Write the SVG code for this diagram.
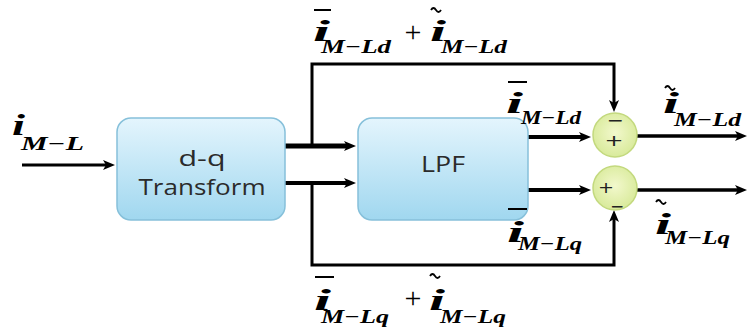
<svg xmlns="http://www.w3.org/2000/svg" width="751" height="328" viewBox="0 0 751 328">
<style>
.box{stroke:#86c0da;stroke-width:1.5}
.btxt{font-family:"Open Sans","Liberation Sans",sans-serif;font-size:21px;fill:#2b2b2b;text-anchor:middle}
.sum{fill:url(#gS);stroke:#c3d97e;stroke-width:1.5}
.sign{font-family:"DejaVu Sans",sans-serif;font-size:16px;fill:#222;text-anchor:middle}
.wire{fill:none;stroke:#000;stroke-linejoin:miter}
.arr{marker-end:url(#ah)}
.mi{font-family:"Liberation Serif",serif;font-weight:bold;font-style:italic;font-size:30px;fill:#000}
.ms{font-family:"Liberation Serif",serif;font-weight:bold;font-style:italic;font-size:19px;fill:#000}
.mp{font-family:"Liberation Serif",serif;font-size:30px;fill:#000}
.bar{stroke:#000;stroke-width:2}
.tl{fill:none;stroke:#000;stroke-width:1.8}
</style>
<defs>
<linearGradient id="gB" x1="0" y1="0" x2="0" y2="1">
<stop offset="0" stop-color="#e4f5fd"/>
<stop offset="1" stop-color="#a0d7ef"/>
</linearGradient>
<radialGradient id="gS" cx="0.5" cy="0.45" r="0.6">
<stop offset="0" stop-color="#f2f8cc"/>
<stop offset="1" stop-color="#d6e996"/>
</radialGradient>
<marker id="ah" markerUnits="userSpaceOnUse" markerWidth="14" markerHeight="12" refX="4" refY="5" orient="auto" overflow="visible">
<path d="M0,0 L12,5 L0,10 L3,5 Z" fill="#000"/>
</marker>
</defs>

<g id="connectors">
<path class="wire arr" d="M22,165 H107" stroke-width="3"/>
<path class="wire arr" d="M285,146 H348" stroke-width="5"/>
<path class="wire arr" d="M285,183 H348" stroke-width="4"/>
<path class="wire arr" d="M312,146 V64 H614 V104" stroke-width="3"/>
<path class="wire arr" d="M312,183 V265 H614 V218" stroke-width="3"/>
<path class="wire arr" d="M528,137 H583" stroke-width="4"/>
<path class="wire arr" d="M528,190 H583" stroke-width="4"/>
<path class="wire arr" d="M637,136 H739" stroke-width="3.5"/>
<path class="wire arr" d="M637,190 H739" stroke-width="3.5"/>
</g>

<g id="dq">
<rect class="box" x="117" y="118" width="168" height="102" rx="14" fill="url(#gB)"/>
<text class="btxt" x="202" y="166" textLength="47" lengthAdjust="spacingAndGlyphs">d-q</text>
<text class="btxt" x="202" y="195" textLength="127" lengthAdjust="spacingAndGlyphs">Transform</text>
</g>

<g id="lpf">
<rect class="box" x="358" y="118" width="170" height="102" rx="14" fill="url(#gB)"/>
<text class="btxt" x="443" y="172" textLength="44" lengthAdjust="spacingAndGlyphs">LPF</text>
</g>

<g id="sum1">
<circle class="sum" cx="615" cy="135" r="22"/>
<text class="sign" x="615" y="126" textLength="17" lengthAdjust="spacingAndGlyphs">−</text>
<text class="sign" x="614" y="146" textLength="19" lengthAdjust="spacingAndGlyphs">+</text>
</g>

<g id="sum2">
<circle class="sum" cx="615" cy="188" r="22"/>
<text class="sign" x="606" y="193" textLength="16" lengthAdjust="spacingAndGlyphs">+</text>
<text class="sign" x="617" y="212" textLength="14" lengthAdjust="spacingAndGlyphs">−</text>
</g>

<g id="label-in">
<text class="mi" x="12" y="135" textLength="13" lengthAdjust="spacingAndGlyphs">i</text>
<text class="ms" x="21" y="150" textLength="63" lengthAdjust="spacingAndGlyphs">M−L</text>
</g>

<g id="label-top">
<line class="bar" x1="314" y1="10" x2="331" y2="10"/>
<text class="mi" x="313" y="41" textLength="17" lengthAdjust="spacingAndGlyphs">i</text>
<text class="ms" x="321" y="53" textLength="70" lengthAdjust="spacingAndGlyphs">M−Ld</text>
<text class="mp" x="413" y="42" text-anchor="middle">+</text>
<path class="tl" d="M431,10 q2.5,-4 5,0 t5,0"/>
<text class="mi" x="430" y="41" textLength="16" lengthAdjust="spacingAndGlyphs">i</text>
<text class="ms" x="441" y="53" textLength="66" lengthAdjust="spacingAndGlyphs">M−Ld</text>
</g>

<g id="label-bottom">
<line class="bar" x1="315" y1="277" x2="334" y2="277"/>
<text class="mi" x="314" y="310" textLength="17" lengthAdjust="spacingAndGlyphs">i</text>
<text class="ms" x="321" y="323" textLength="68" lengthAdjust="spacingAndGlyphs">M−Lq</text>
<text class="mp" x="413" y="308" text-anchor="middle">+</text>
<path class="tl" d="M430,276 q2.5,-4 5,0 t5,0"/>
<text class="mi" x="429" y="310" textLength="16" lengthAdjust="spacingAndGlyphs">i</text>
<text class="ms" x="440" y="323" textLength="66" lengthAdjust="spacingAndGlyphs">M−Lq</text>
</g>

<g id="label-ld-bar">
<line class="bar" x1="508" y1="82" x2="527" y2="82"/>
<text class="mi" x="506" y="113" textLength="17" lengthAdjust="spacingAndGlyphs">i</text>
<text class="ms" x="521" y="124" textLength="60" lengthAdjust="spacingAndGlyphs">M−Ld</text>
</g>

<g id="label-ld-tilde">
<path class="tl" d="M665,88 q2.5,-4 5,0 t5,0"/>
<text class="mi" x="663" y="113" textLength="16" lengthAdjust="spacingAndGlyphs">i</text>
<text class="ms" x="674" y="126" textLength="67" lengthAdjust="spacingAndGlyphs">M−Ld</text>
</g>

<g id="label-lq-bar">
<line class="bar" x1="508" y1="209" x2="527" y2="209"/>
<text class="mi" x="507" y="242" textLength="17" lengthAdjust="spacingAndGlyphs">i</text>
<text class="ms" x="518" y="250" textLength="64" lengthAdjust="spacingAndGlyphs">M−Lq</text>
</g>

<g id="label-lq-tilde">
<path class="tl" d="M656,202 q2.5,-4 5,0 t5,0"/>
<text class="mi" x="655" y="234" textLength="16" lengthAdjust="spacingAndGlyphs">i</text>
<text class="ms" x="665" y="244" textLength="65" lengthAdjust="spacingAndGlyphs">M−Lq</text>
</g>
</svg>
